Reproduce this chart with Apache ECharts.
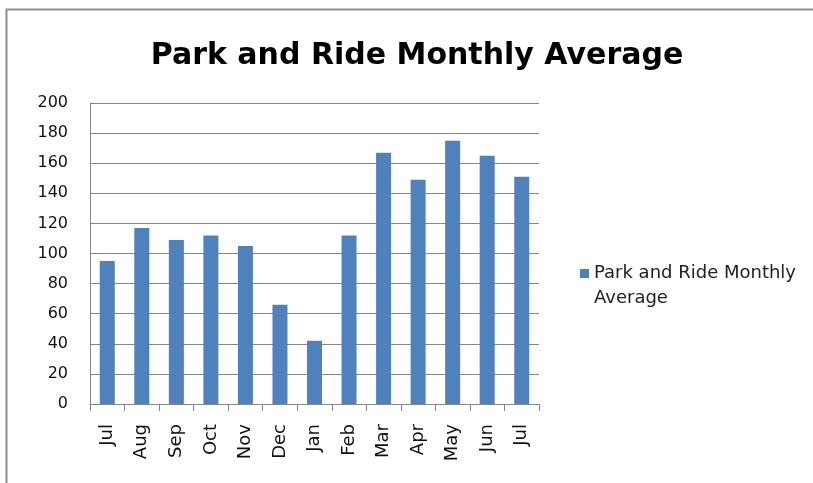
<!DOCTYPE html>
<html lang="en">
<head>
    <meta charset="UTF-8">
    <title>Park and Ride Monthly Average</title>
    <script src="https://cdn.jsdelivr.net/npm/echarts@6/dist/echarts.min.js"></script>
    <style>
        html, body { margin: 0; padding: 0; background: #fff; }
    </style>
</head>
<body>
<div id="chart" style="width: 813px; height: 483px;"></div>
<script type="text/javascript">
    var months = ['Jul', 'Aug', 'Sep', 'Oct', 'Nov', 'Dec', 'Jan', 'Feb', 'Mar', 'Apr', 'May', 'Jun', 'Jul'];
    var averages = [95, 117, 109, 112, 105, 66, 42, 112, 167, 149, 175, 165, 151];
    var seriesName = 'Park and Ride Monthly Average';

    var chart = echarts.init(document.getElementById('chart'));
    var option = {
        backgroundColor: '#fff',
        animation: false,
        title: {
            text: seriesName,
            left: 412,
            textAlign: 'center',
            top: 36,
            textStyle: {
                fontFamily: 'DejaVu Sans',
                fontWeight: 'bold',
                fontSize: 30,
                color: '#000'
            }
        },
        // outer chart frame
        graphic: [{
            type: 'rect',
            shape: { x: 6.5, y: 9.5, width: 900, height: 600 },
            style: { fill: 'none', stroke: '#8c8c8c', lineWidth: 2 },
            silent: true
        }],
        legend: {
            left: 575,
            top: 256,
            orient: 'vertical',
            // square on top of a tall, empty box so it lines up with the first text line
            icon: 'path://M0,0h9v9h-9z M0,33.99h0.01v0.01h-0.01z',
            itemWidth: 9,
            itemHeight: 34,
            formatter: function () {
                return 'Park and Ride Monthly\nAverage';
            },
            textStyle: {
                fontFamily: 'DejaVu Sans',
                fontSize: 18,
                lineHeight: 25,
                color: '#222'
            }
        },
        grid: {
            left: 90,
            right: 274,
            top: 103,
            bottom: 79,
            containLabel: false
        },
        xAxis: {
            type: 'category',
            data: months,
            axisLine: { lineStyle: { color: '#868686', width: 1 } },
            axisTick: { show: true, length: 7, lineStyle: { color: '#868686' } },
            axisLabel: {
                rotate: 90,
                margin: 20,
                fontFamily: 'DejaVu Sans',
                fontSize: 18,
                color: '#111'
            }
        },
        yAxis: {
            type: 'value',
            min: 0,
            max: 200,
            interval: 20,
            axisLine: { show: true, lineStyle: { color: '#868686' } },
            axisTick: { show: false },
            axisLabel: {
                margin: 22,
                fontFamily: 'DejaVu Sans',
                fontSize: 16,
                color: '#111'
            },
            splitLine: { lineStyle: { color: '#868686', width: 1 } }
        },
        series: [{
            name: seriesName,
            type: 'bar',
            data: averages,
            barWidth: 15,
            itemStyle: { color: '#4F81BD' }
        }]
    };
    chart.setOption(option);
</script>
</body>
</html>
